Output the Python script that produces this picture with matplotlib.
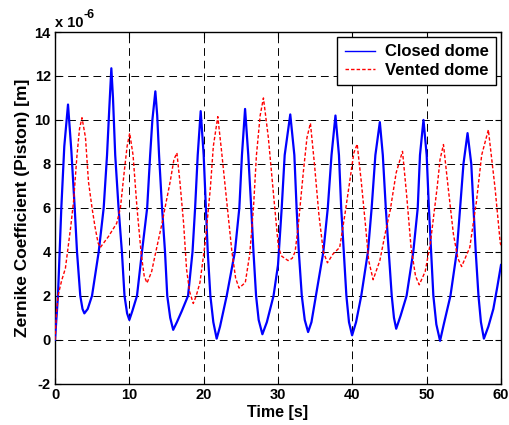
import matplotlib
matplotlib.use("Agg")
import matplotlib.pyplot as plt

plt.rcParams['font.family'] = ['Liberation Sans', 'DejaVu Sans']
plt.rcParams['font.weight'] = 'bold'
plt.rcParams['axes.unicode_minus'] = False

# Closed dome (blue, solid) -- values in units of 1e-6 m
closed_t = [0, 0.4, 0.85, 1.25, 1.75, 2.2, 2.65, 2.96, 3.4, 3.7, 3.95, 4.4, 4.98, 5.88, 6.55, 7.0, 7.3, 7.58,
            7.8, 8.1, 8.55, 9.0, 9.35, 9.7, 10.0, 10.4, 11.03, 11.7, 12.4, 12.8, 13.1, 13.5,
            13.75, 14.0, 14.4, 14.8, 15.1, 15.5, 15.9, 16.4, 17.05, 17.9, 18.5, 18.85, 19.2, 19.6,
            20.0, 20.3, 20.55, 20.9, 21.3, 21.75, 22.2, 23.1, 24.2, 24.8, 25.15, 25.57,
            26.0, 26.4, 26.7, 27.05, 27.4, 27.9, 28.5, 29.4, 30.0, 30.5, 30.9, 31.65,
            32.2, 32.5, 32.8, 33.2, 33.6, 34.05, 34.5, 35.1, 36.1, 36.7, 37.2, 37.73,
            38.2, 38.5, 38.85, 39.2, 39.55, 39.97, 40.5, 41.2, 42.1, 42.6, 43.1, 43.7,
            44.1, 44.5, 44.9, 45.3, 45.6, 45.9, 46.5, 47.3, 48.2, 48.8, 49.1, 49.57,
            50.0, 50.3, 50.6, 50.9, 51.3, 51.8, 52.3, 53.2, 54.05, 54.5, 54.95, 55.5,
            56.0, 56.3, 56.6, 56.97, 57.3, 57.7, 58.3, 58.97, 59.5, 60.0]
closed_v = [0, 2, 6, 8.8, 10.7, 8.6, 6, 4, 2, 1.4, 1.2, 1.4, 2, 4, 6, 8.4, 10.5, 12.35,
            11.0, 8.4, 6, 4, 2, 1.2, 0.9, 1.3, 2, 4, 6, 8.4, 10.0, 11.3,
            10.2, 8.4, 6, 4, 2, 1.0, 0.45, 0.8, 1.3, 2, 4, 6, 8.4, 10.4,
            8.4, 6, 4, 2, 0.8, 0.05, 0.6, 2, 4, 6, 8.4, 10.5,
            8.4, 6, 4, 2, 0.9, 0.25, 0.8, 2, 3.4, 6, 8.4, 10.25,
            8.4, 6, 4, 2, 0.9, 0.35, 0.8, 2, 4, 6, 8.4, 10.2,
            8.4, 6, 4, 2, 0.8, 0.2, 0.8, 2, 4, 6, 8.4, 9.9,
            8.4, 6, 4, 2, 1.0, 0.5, 1.1, 2, 4, 6, 8.4, 10.0,
            8.4, 6, 4, 2, 0.7, -0.05, 0.7, 2, 4, 6, 8.0, 9.4,
            8.0, 6, 4, 2, 0.8, 0.05, 0.6, 1.4, 2.4, 3.4]

# Vented dome (red, dashed)
vented_t = [0, 0.2, 0.4, 0.9, 1.4, 2.1, 2.5, 2.96, 3.3, 3.63, 4.1, 4.5, 4.98, 5.4, 5.8, 6.1,
            7.2, 8.3, 8.8, 9.3, 9.7, 10.05, 10.5, 11.03, 11.6, 12.0, 12.38, 13.0, 13.5, 14.4,
            14.8, 15.5, 16.0, 16.4, 16.8, 17.3, 17.7, 18.1, 18.6, 19.0, 19.5, 20.2, 20.9,
            21.3, 21.9, 22.4, 23.1, 23.8, 24.3, 24.76, 25.6, 26.2, 26.7, 27.1, 27.6, 28.04,
            28.7, 29.4, 30.06, 30.5, 31.36, 31.9, 32.3, 32.7, 33.4, 33.9, 34.36, 34.9, 35.5,
            36.1, 36.65, 37.4, 38.3, 39.0, 39.65, 40.2, 40.65, 41.2, 41.8, 42.2, 42.8, 43.7,
            44.4, 45.1, 45.9, 46.75, 47.3, 47.9, 48.5, 49.0, 49.8, 50.5, 51.4, 51.8, 52.26,
            52.9, 53.6, 54.2, 54.7, 55.8, 56.7, 57.4, 58.3, 59.2, 59.9, 60.0]
vented_v = [0, 1.2, 2, 2.7, 3.25, 5.1, 6.3, 8.4, 9.6, 10.1, 9.2, 7.2, 6, 5.1, 4.4, 4.2,
            4.7, 5.3, 6, 7.6, 8.8, 9.4, 8.4, 6, 3.9, 2.9, 2.58, 3.1, 3.9, 5.3,
            6, 7.2, 8.2, 8.5, 7.2, 5.3, 3.2, 2.2, 1.65, 2.0, 2.6, 4.4, 6.9,
            8.8, 10.15, 8.6, 6.3, 4, 2.8, 2.35, 2.6, 3.9, 6, 8.4, 10.2, 11.0,
            9.2, 6.6, 4.2, 3.8, 3.6, 3.7, 4, 5.1, 7.6, 9.2, 9.85, 8, 5.7,
            4, 3.5, 3.9, 4.2, 5.7, 7.2, 8.5, 8.9, 7.2, 5.1, 3.6, 2.73, 3.6,
            4.8, 5.9, 7.6, 8.57, 6.6, 4.2, 2.9, 2.5, 3.1, 4.4, 6.9, 8.2, 8.88,
            6.9, 4.8, 3.7, 3.33, 4.2, 6.3, 8.4, 9.55, 6.9, 4.4, 4.3]

x_ticks = [0, 10, 20, 30, 40, 50, 60]
y_ticks = [-2, 0, 2, 4, 6, 8, 10, 12, 14]

W, H = 509, 425
fig = plt.figure(figsize=(W / 100, H / 100), dpi=100)
ax = fig.add_axes([55 / W, 1 - 383.7 / H, (501 - 55) / W, (383.7 - 32) / H])

ax.plot(closed_t, closed_v, color='#0000ff', lw=1.6, label='Closed dome', zorder=3)
ax.plot(vented_t, vented_v, color='#ff0000', lw=1.0, linestyle=(0, (2.5, 1.5)),
        label='Vented dome', zorder=3)

ax.set_xlim(0, 60)
ax.set_ylim(-2, 14)
ax.set_xticks(x_ticks)
ax.set_yticks(y_ticks)
ax.tick_params(direction='in', top=True, right=True, length=4, width=0.8,
               labelsize=10.5, pad=3)
for lab in ax.get_xticklabels() + ax.get_yticklabels():
    lab.set_fontweight('bold')
ax.grid(True, color='black', lw=0.7, linestyle=(0, (8, 5)))
for s in ax.spines.values():
    s.set_linewidth(1.0)

ax.set_xlabel('Time [s]', fontsize=11.5, fontweight='bold', labelpad=2)
ax.set_ylabel('Zernike Coefficient (Piston) [m]', fontsize=12.5, fontweight='bold', labelpad=3)

fig.text(55 / W, 1 - 27 / H, 'x 10', fontsize=10.5, fontweight='bold', va='baseline')
fig.text(83 / W, 1 - 18.5 / H, '-6', fontsize=9, fontweight='bold', va='baseline')

leg = ax.legend(loc='upper right', prop={'weight': 'bold', 'size': 12},
                fancybox=False, framealpha=1, edgecolor='black', borderaxespad=0.3,
                handlelength=1.8, handletextpad=0.6, labelspacing=0.2, borderpad=0.45)
leg.get_frame().set_linewidth(1.0)
for line in leg.get_lines():
    line.set_linewidth(1.0)

fig.savefig('out.png', dpi=100)
